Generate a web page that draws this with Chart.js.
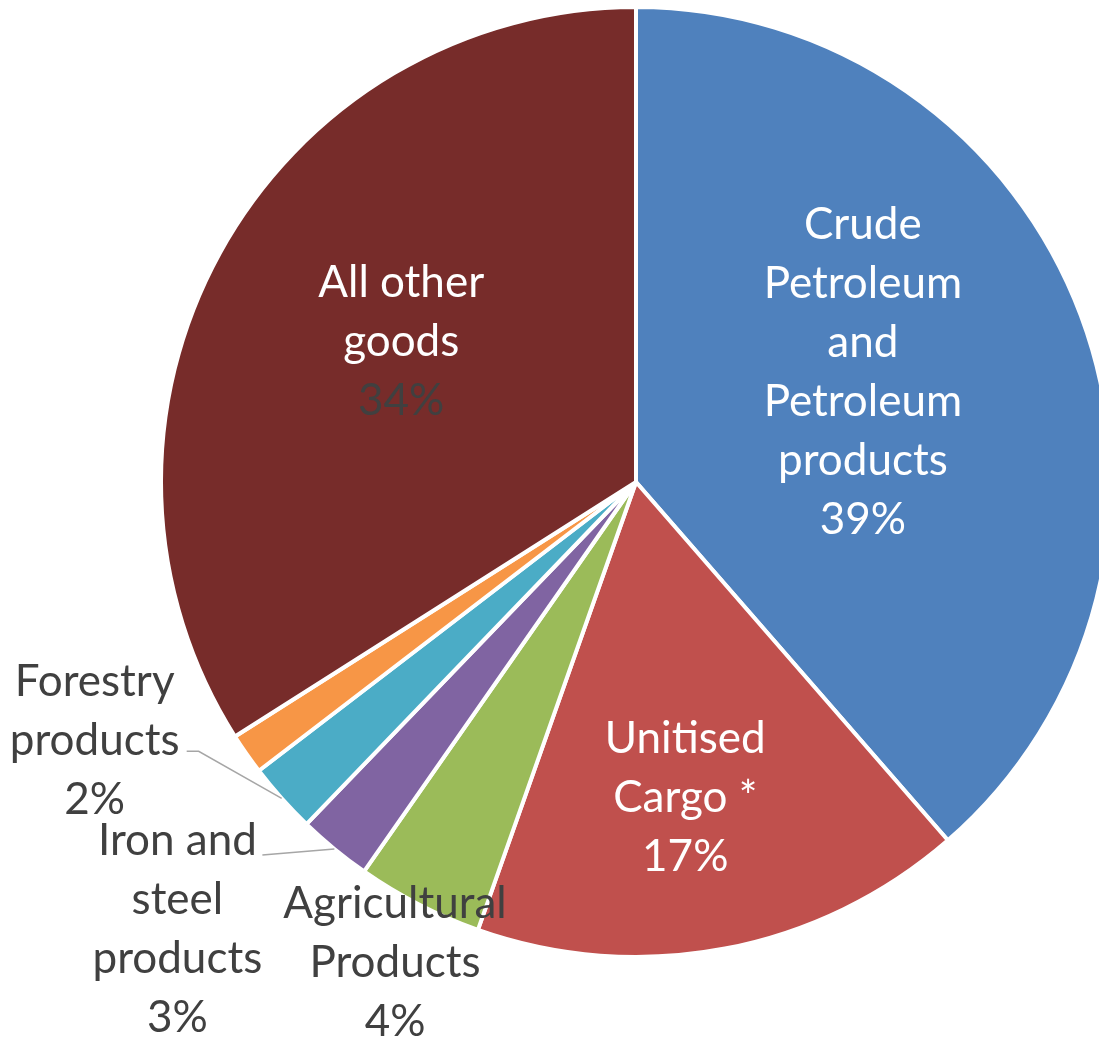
<!DOCTYPE html>
<html lang="en">
<head>
  <meta charset="UTF-8" />
  <title>Freight by commodity</title>
  <script src="https://cdn.jsdelivr.net/npm/chart.js"></script>
  <style>
    html, body { margin: 0; padding: 0; background: #fff; overflow: hidden; }
    #cargoPie { display: block; }
  </style>
</head>
<body>
  <canvas id="cargoPie" width="1272" height="1037"></canvas>

<script>
  // Share of tonnage by commodity group (percent)
  const categories = [
    "Crude\nPetroleum\nand\nPetroleum\nproducts",
    "Unitised\nCargo *",
    "Agricultural\nProducts",
    "Iron and\nsteel\nproducts",
    "Forestry\nproducts",
    "",               // small slice left unlabelled
    "All other\ngoods"
  ];
  const shares = [38.6, 16.8, 4.3, 2.5, 2.4, 1.4, 34.0];
  const colors = ["#4F81BD", "#C0504D", "#9BBB59", "#8064A2", "#4BACC6", "#F79646", "#772C2A"];

  // where each label sits: fraction of radius along the slice middle, plus a nudge
  const labelPlace = [
    { r: 0.51,  dx: 0,    dy: -25, name: "#fff",    pct: "#fff" },
    { r: 0.677, dx: -11,  dy: 0,   name: "#fff",    pct: "#fff" },
    { r: 1,     dx: -24,  dy: 58,  name: "#404040", pct: "#404040" },
    { r: 1,     dx: -157, dy: 80,  name: "#404040", pct: "#404040", leader: [[85, -74]] },
    { r: 1,     dx: -187, dy: -58, name: "#404040", pct: "#404040", leader: [[104, 11], [92, 11]] },
    null,
    { r: 0.564, dx: 0,    dy: -11, name: "#fff",    pct: "#404040" }
  ];

  const LINE_H = 59;
  const FONT = "44px Lato, 'Open Sans', sans-serif";

  const sliceLabels = {
    id: "sliceLabels",
    afterDatasetsDraw(chart) {
      const ctx = chart.ctx;
      const meta = chart.getDatasetMeta(0);
      const total = shares.reduce((a, b) => a + b, 0);
      ctx.save();
      ctx.font = FONT;
      ctx.textAlign = "center";
      ctx.textBaseline = "middle";
      meta.data.forEach((arc, i) => {
        const p = labelPlace[i];
        if (!p) return;
        const { x, y, startAngle, endAngle, outerRadius } = arc.getProps(["x", "y", "startAngle", "endAngle", "outerRadius"], true);
        const mid = (startAngle + endAngle) / 2;
        const ex = x + Math.cos(mid) * outerRadius;
        const ey = y + Math.sin(mid) * outerRadius;
        const cx = x + Math.cos(mid) * outerRadius * p.r + p.dx;
        const cy = y + Math.sin(mid) * outerRadius * p.r + p.dy;

        if (p.leader) {
          ctx.strokeStyle = "#A6A6A6";
          ctx.lineWidth = 1.5;
          ctx.beginPath();
          ctx.moveTo(ex, ey);
          p.leader.forEach(([lx, ly]) => ctx.lineTo(cx + lx, cy + ly));
          ctx.stroke();
        }

        const lines = categories[i].split("\n");
        lines.push(Math.round(shares[i] / total * 100) + "%");
        const top = cy - (lines.length - 1) * LINE_H / 2;
        lines.forEach((t, k) => {
          ctx.fillStyle = k === lines.length - 1 ? p.pct : p.name;
          ctx.fillText(t, cx, top + k * LINE_H);
        });
      });
      ctx.restore();
    }
  };

  new Chart(document.getElementById("cargoPie"), {
    type: "pie",
    data: {
      labels: categories,
      datasets: [{
        data: shares,
        backgroundColor: colors,
        borderColor: "#fff",
        borderWidth: 4
      }]
    },
    options: {
      responsive: false,
      animation: false,
      layout: { padding: { top: 5, bottom: 78, left: 0, right: 0 } },
      plugins: { legend: { display: false }, tooltip: { enabled: false } }
    },
    plugins: [sliceLabels]
  });
</script>
</body>
</html>
